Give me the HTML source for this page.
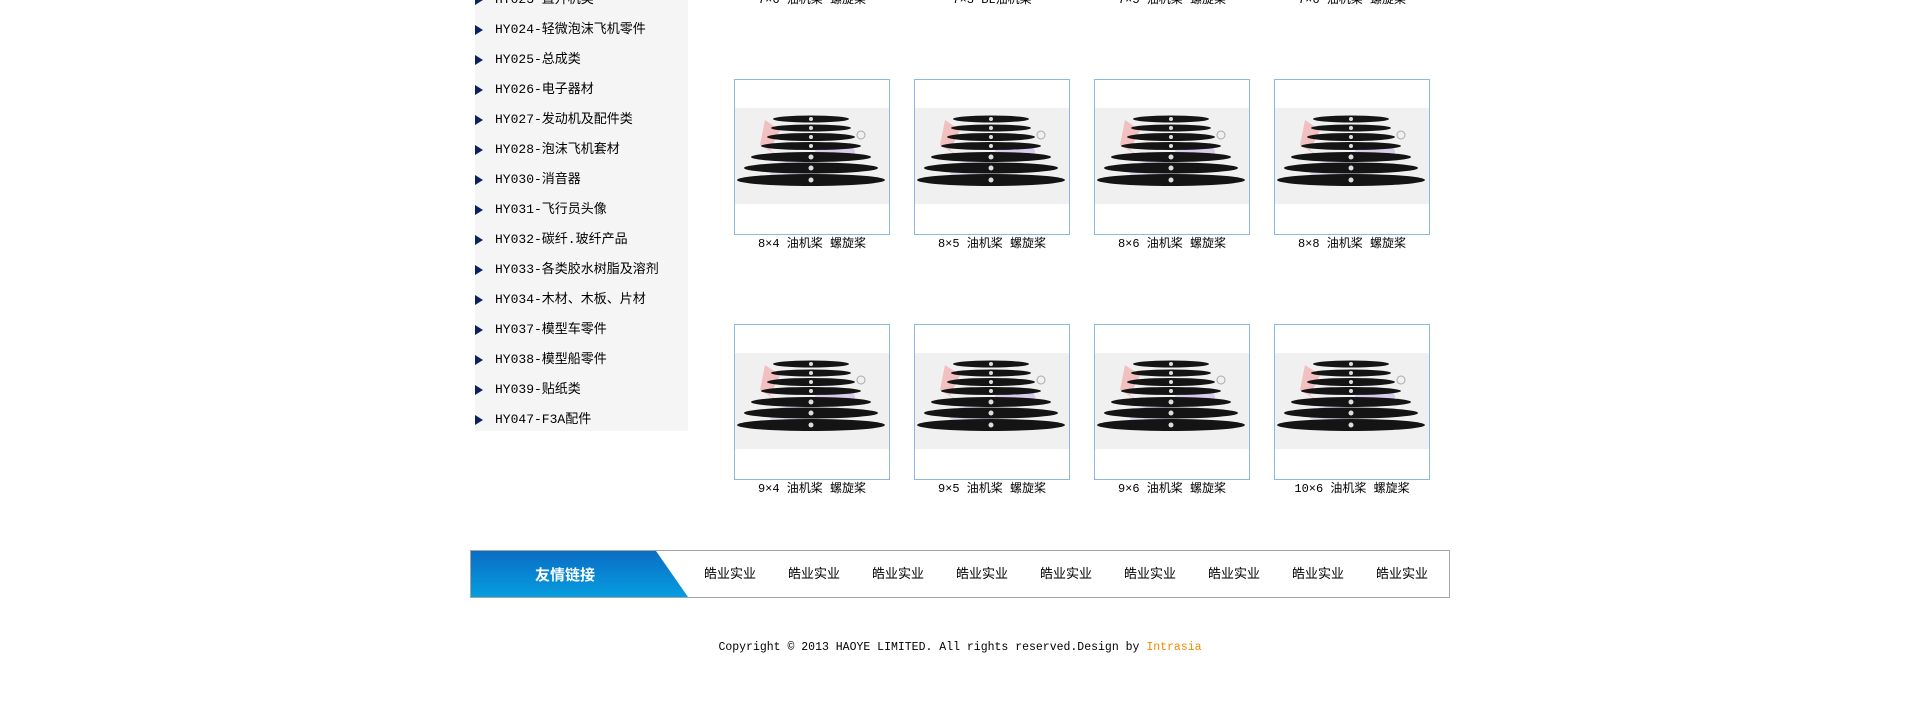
<!DOCTYPE html>
<html><head><meta charset="utf-8"><style>
*{margin:0;padding:0;box-sizing:border-box}
body{width:1920px;height:724px;background:#fff;position:relative;overflow:hidden;font-family:"Liberation Mono","Noto Sans CJK SC",monospace;color:#000}
.side{position:absolute;left:475px;top:0;width:213px;height:431px;background:#f5f5f5}
.it{position:absolute;left:495px;font-size:13px;line-height:16px;white-space:nowrap;font-family:"Liberation Mono","Noto Sans CJK SC",monospace}
.ar{position:absolute;left:475px;width:0;height:0;border-left:8px solid #0b2260;border-top:5px solid transparent;border-bottom:5px solid transparent}
.box{position:absolute;width:156px;height:156px;border:1px solid #8bb9e2;background:#fff;overflow:hidden}
.cap{position:absolute;width:200px;text-align:center;font-size:12px;line-height:16px;white-space:nowrap}
.bar{position:absolute;left:470px;top:550px;width:980px;height:48px;border:1px solid #a5a5a5;background:#fff}
.lk{position:absolute;top:566px;font-size:13px;line-height:16px;font-family:"Liberation Sans","Noto Sans CJK SC",sans-serif;transform:translateX(-50%)}
</style></head><body>
<svg width="0" height="0" style="position:absolute"><defs>
<g id="pr">
<rect x="0" y="28" width="156" height="96" fill="#f0f0f0"/>
<polygon points="30,40 45,50 35,70 50,80 25,65" fill="#f3a0a0" opacity="0.6"/>
<ellipse cx="60" cy="92" rx="25" ry="12" fill="#d6c8ee" opacity="0.6"/>
<ellipse cx="100" cy="72" rx="20" ry="10" fill="#c9b3ea" opacity="0.6"/>
<ellipse cx="76" cy="39" rx="38" ry="3.5" fill="#141414"/>
<ellipse cx="76" cy="48" rx="40" ry="3.5" fill="#141414"/>
<ellipse cx="76" cy="57" rx="44" ry="4" fill="#141414"/>
<ellipse cx="76" cy="66" rx="50" ry="4" fill="#141414"/>
<ellipse cx="76" cy="77" rx="60" ry="5" fill="#141414"/>
<ellipse cx="76" cy="88" rx="67" ry="5.5" fill="#141414"/>
<ellipse cx="76" cy="100" rx="74" ry="6" fill="#141414"/>
<g fill="#ddd"><circle cx="76" cy="39" r="2"/><circle cx="76" cy="48" r="2"/><circle cx="76" cy="57" r="2"/><circle cx="76" cy="66" r="2"/><circle cx="76" cy="77" r="2.5"/><circle cx="76" cy="88" r="2.5"/><circle cx="76" cy="100" r="2.5"/></g>
<circle cx="126" cy="55" r="4" fill="none" stroke="#aaa" stroke-width="1"/>
</g></defs></svg>
<div class="side"></div>
<div class="ar" style="top:-5px"></div><div class="it" style="top:-8px">HY023-直升机类</div>
<div class="ar" style="top:25px"></div><div class="it" style="top:22px">HY024-轻微泡沫飞机零件</div>
<div class="ar" style="top:55px"></div><div class="it" style="top:52px">HY025-总成类</div>
<div class="ar" style="top:85px"></div><div class="it" style="top:82px">HY026-电子器材</div>
<div class="ar" style="top:115px"></div><div class="it" style="top:112px">HY027-发动机及配件类</div>
<div class="ar" style="top:145px"></div><div class="it" style="top:142px">HY028-泡沫飞机套材</div>
<div class="ar" style="top:175px"></div><div class="it" style="top:172px">HY030-消音器</div>
<div class="ar" style="top:205px"></div><div class="it" style="top:202px">HY031-飞行员头像</div>
<div class="ar" style="top:235px"></div><div class="it" style="top:232px">HY032-碳纤.玻纤产品</div>
<div class="ar" style="top:265px"></div><div class="it" style="top:262px">HY033-各类胶水树脂及溶剂</div>
<div class="ar" style="top:295px"></div><div class="it" style="top:292px">HY034-木材、木板、片材</div>
<div class="ar" style="top:325px"></div><div class="it" style="top:322px">HY037-模型车零件</div>
<div class="ar" style="top:355px"></div><div class="it" style="top:352px">HY038-模型船零件</div>
<div class="ar" style="top:385px"></div><div class="it" style="top:382px">HY039-贴纸类</div>
<div class="ar" style="top:415px"></div><div class="it" style="top:412px">HY047-F3A配件</div>

<div class="cap" style="left:712px;top:-8px">7×6 油机桨 螺旋桨</div>
<div class="cap" style="left:892px;top:-8px">7×3 BL油机桨</div>
<div class="cap" style="left:1072px;top:-8px">7×5 油机桨 螺旋桨</div>
<div class="cap" style="left:1252px;top:-8px">7×6 油机桨 螺旋桨</div>

<div class="box" style="left:734px;top:79px"><svg width="156" height="156"><use href="#pr"/></svg></div>
<div class="box" style="left:914px;top:79px"><svg width="156" height="156"><use href="#pr"/></svg></div>
<div class="box" style="left:1094px;top:79px"><svg width="156" height="156"><use href="#pr"/></svg></div>
<div class="box" style="left:1274px;top:79px"><svg width="156" height="156"><use href="#pr"/></svg></div>
<div class="cap" style="left:712px;top:236px">8×4 油机桨 螺旋桨</div>
<div class="cap" style="left:892px;top:236px">8×5 油机桨 螺旋桨</div>
<div class="cap" style="left:1072px;top:236px">8×6 油机桨 螺旋桨</div>
<div class="cap" style="left:1252px;top:236px">8×8 油机桨 螺旋桨</div>

<div class="box" style="left:734px;top:324px"><svg width="156" height="156"><use href="#pr"/></svg></div>
<div class="box" style="left:914px;top:324px"><svg width="156" height="156"><use href="#pr"/></svg></div>
<div class="box" style="left:1094px;top:324px"><svg width="156" height="156"><use href="#pr"/></svg></div>
<div class="box" style="left:1274px;top:324px"><svg width="156" height="156"><use href="#pr"/></svg></div>
<div class="cap" style="left:712px;top:481px">9×4 油机桨 螺旋桨</div>
<div class="cap" style="left:892px;top:481px">9×5 油机桨 螺旋桨</div>
<div class="cap" style="left:1072px;top:481px">9×6 油机桨 螺旋桨</div>
<div class="cap" style="left:1252px;top:481px">10×6 油机桨 螺旋桨</div>

<div class="bar"></div>
<svg style="position:absolute;left:471px;top:551px" width="220" height="46"><defs><linearGradient id="g" x1="0" y1="0" x2="0" y2="1"><stop offset="0" stop-color="#0a6dc5"/><stop offset="1" stop-color="#069ddf"/></linearGradient></defs><polygon points="0,0 185,0 217,46 0,46" fill="url(#g)"/></svg>
<div style="position:absolute;left:470px;width:190px;top:564px;text-align:center;color:#fff;font-size:15px;font-weight:bold;font-family:'Liberation Sans','Noto Sans CJK SC',sans-serif">友情链接</div>
<div class="lk" style="left:730px">皓业实业</div>
<div class="lk" style="left:814px">皓业实业</div>
<div class="lk" style="left:898px">皓业实业</div>
<div class="lk" style="left:982px">皓业实业</div>
<div class="lk" style="left:1066px">皓业实业</div>
<div class="lk" style="left:1150px">皓业实业</div>
<div class="lk" style="left:1234px">皓业实业</div>
<div class="lk" style="left:1318px">皓业实业</div>
<div class="lk" style="left:1402px">皓业实业</div>

<div style="position:absolute;left:0;width:1920px;top:641px;text-align:center;font-size:11.5px;font-family:'Liberation Mono',monospace">Copyright © 2013 HAOYE LIMITED. All rights reserved.Design by <span style="color:#f08c00">Intrasia</span></div>
</body></html>
